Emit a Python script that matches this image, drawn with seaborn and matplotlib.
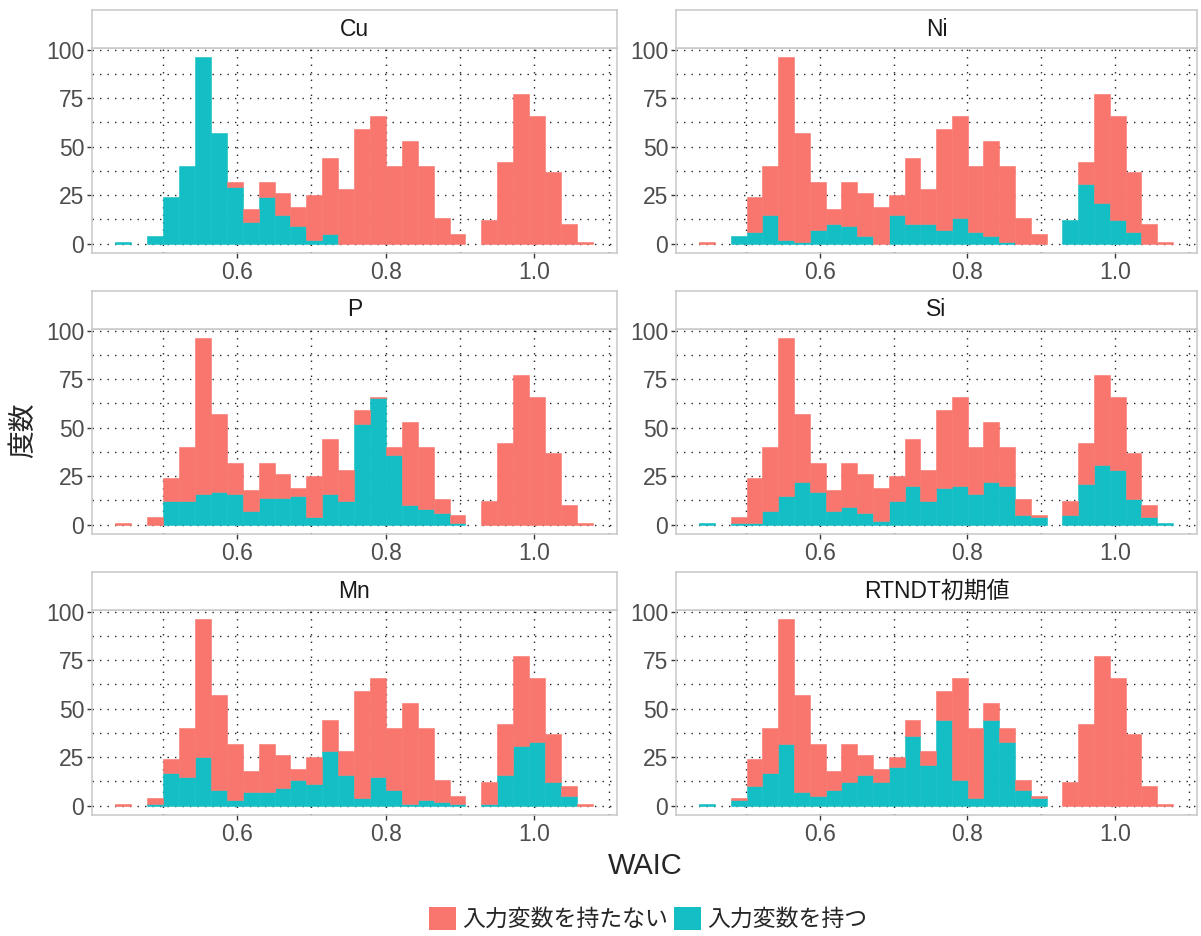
import numpy as np
import pandas as pd
import matplotlib.pyplot as plt
from matplotlib.patches import Patch
from matplotlib.ticker import MultipleLocator
import seaborn as sns

# histogram bins (30 bins, as in ggplot's default)
bin_left = 0.4366
bin_width = 0.02139
n_bins = 30

# total counts per bin (same in every panel)
total_counts = [1, 0, 4, 24, 40, 96, 57, 32, 18, 32, 26, 19, 25, 44, 28,
                59, 66, 40, 53, 40, 13, 5, 0, 12, 42, 77, 66, 37, 10, 1]

# counts of models that have the input variable
cu_with = [1, 0, 4, 24, 40, 96, 57, 29, 11, 24, 15, 9, 2, 5, 0,
           0, 0, 0, 0, 0, 0, 0, 0, 0, 0, 0, 0, 0, 0, 0]
ni_with = [0, 0, 4, 6, 15, 2, 1, 7, 10, 9, 4, 0, 15, 10, 10,
           7, 13, 6, 4, 1, 0, 0, 0, 12, 31, 21, 12, 6, 0, 0]
p_with = [0, 0, 0, 12, 12, 16, 17, 16, 7, 14, 14, 15, 4, 16, 12,
          52, 65, 36, 10, 8, 6, 1, 0, 0, 0, 0, 0, 0, 0, 0]
si_with = [1, 0, 1, 1, 7, 15, 22, 17, 7, 9, 6, 2, 12, 20, 12,
           19, 20, 16, 22, 20, 5, 4, 0, 5, 21, 31, 28, 13, 4, 1]
mn_with = [0, 0, 1, 17, 15, 25, 8, 3, 7, 7, 9, 13, 11, 28, 16,
           4, 15, 8, 1, 3, 2, 1, 0, 1, 16, 31, 33, 12, 5, 0]
rtndt_with = [1, 0, 3, 10, 17, 32, 7, 5, 8, 12, 16, 12, 20, 36, 21,
              44, 13, 4, 44, 33, 8, 4, 0, 0, 0, 0, 0, 0, 0, 0]

panels = ["Cu", "Ni", "P", "Si", "Mn", "RTNDT初期値"]
panel_with = [cu_with, ni_with, p_with, si_with, mn_with, rtndt_with]

lab_no = "入力変数を持たない"
lab_yes = "入力変数を持つ"
red = "#F8766D"
teal = "#13BFC4"

bin_range = (bin_left, bin_left + bin_width * n_bins)
centers = bin_left + bin_width * (np.arange(n_bins) + 0.5)

rows = []
for name, with_vals in zip(panels, panel_with):
    for c, tot, w in zip(centers, total_counts, with_vals):
        rows.append((name, c, lab_no, tot - w))
        rows.append((name, c, lab_yes, w))
df = pd.DataFrame(rows, columns=["panel", "WAIC", "group", "count"])

sns.set_style("white")
plt.rcParams["font.family"] = ["Liberation Sans", "Noto Sans CJK JP", "DejaVu Sans"]

W, H = 1201, 936
fig = plt.figure(figsize=(W / 100, H / 100), dpi=100)

col_x = [(92, 617), (676, 1197)]
row_top = [48, 329, 610]
panel_h = 205
strip_h = 38

# dotted grid, major and minor alike
grid_kw = dict(color="#222222", linewidth=1.0, linestyle=(0, (1, 4.4)))

for i, name in enumerate(panels):
    r, c = divmod(i, 2)
    x0, x1 = col_x[c]
    top = row_top[r]
    ax = fig.add_axes([x0 / W, 1 - (top + panel_h) / H, (x1 - x0) / W, panel_h / H])
    sub = df[df["panel"] == name].reset_index(drop=True)
    sns.histplot(data=sub, x="WAIC", weights="count", hue="group",
                 hue_order=[lab_no, lab_yes], palette=[red, teal],
                 bins=n_bins, binrange=bin_range,
                 multiple="stack", alpha=1, linewidth=0, legend=False, ax=ax)
    for p in ax.patches:
        if p.get_height() > 0:
            p.set_edgecolor(p.get_facecolor())
            p.set_linewidth(0.4)
    ax.set_xlim(0.405, 1.111)
    ax.set_ylim(-4.8, 100.8)
    ax.set_xticks([0.6, 0.8, 1.0])
    ax.set_xticklabels(["0.6", "0.8", "1.0"])
    ax.set_yticks([0, 25, 50, 75, 100])
    ax.xaxis.set_minor_locator(MultipleLocator(0.1))
    ax.yaxis.set_minor_locator(MultipleLocator(12.5))
    ax.set_axisbelow(True)
    ax.grid(True, which="both", **grid_kw)
    ax.set_xlabel("")
    ax.set_ylabel("")
    ax.tick_params(axis="both", which="major", length=3.5, width=1,
                   color="#333333", labelsize=16.5, labelcolor="#4D4D4D", pad=2,
                   bottom=True, left=True)
    ax.tick_params(axis="both", which="minor", length=0)
    for s in ax.spines.values():
        s.set_color("#C8C8C8")
        s.set_linewidth(1.1)

    sax = fig.add_axes([x0 / W, 1 - top / H, (x1 - x0) / W, strip_h / H])
    sax.set_xticks([])
    sax.set_yticks([])
    sax.set_facecolor("white")
    for s in sax.spines.values():
        s.set_color("#C8C8C8")
        s.set_linewidth(1.1)
    sax.text(0.5, 0.5, name, ha="center", va="center", fontsize=16.5,
             color="#1A1A1A", transform=sax.transAxes)

fig.text(645 / W, 1 - 866 / H, "WAIC", ha="center", va="center", fontsize=21)
fig.text(24 / W, 1 - 430 / H, "度数", ha="center", va="center", fontsize=20,
         rotation=90)

handles = [Patch(facecolor=red, edgecolor="none", label=lab_no),
           Patch(facecolor=teal, edgecolor="none", label=lab_yes)]
fig.legend(handles=handles, loc="center", bbox_to_anchor=(648 / W, 1 - 919 / H),
           ncol=2, frameon=False, fontsize=16.5, handlelength=1.2,
           handleheight=1.2, handletextpad=0.25, columnspacing=0.25,
           borderpad=0)

fig.savefig("out.png", dpi=100, facecolor="white")
